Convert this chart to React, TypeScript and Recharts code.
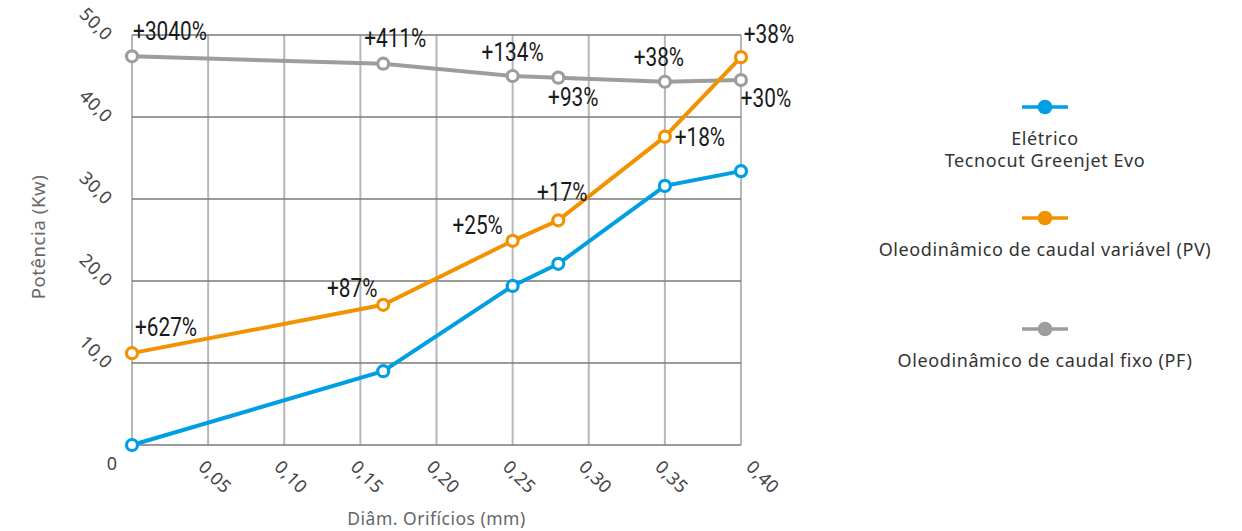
import React from 'react';
import {
  LineChart,
  Line,
  XAxis,
  YAxis,
  CartesianGrid,
  Legend,
  LabelList,
} from 'recharts';

// diâmetro do orifício (mm)
const DIAMETERS = [0, 0.165, 0.25, 0.28, 0.35, 0.4];
// potência (Kw) por tecnologia
const ELETRICO = [0, 9.0, 19.4, 22.1, 31.6, 33.4];
const PV = [11.2, 17.1, 24.9, 27.4, 37.6, 47.3];
const PF = [47.4, 46.5, 45.0, 44.8, 44.3, 44.5];

const PV_LABELS = ['+627%', '+87%', '+25%', '+17%', '+18%', '+38%'];
const PF_LABELS = ['+3040%', '+411%', '+134%', '+93%', '+38%', '+30%'];

const X_TICKS = [0, 0.05, 0.1, 0.15, 0.2, 0.25, 0.3, 0.35, 0.4];
const X_TICK_LABELS = ['', '0,05', '0,10', '0,15', '0,20', '0,25', '0,30', '0,35', '0,40'];
const Y_TICKS = [0, 10, 20, 30, 40, 50];
const Y_TICK_LABELS = ['0', '10,0', '20,0', '30,0', '40,0', '50,0'];

// label placement [dx, dy] relative to each point
const PV_LABEL_POS = [[34, -26], [-31, -17], [-35, -16], [4, -28], [35, 0], [28, -23]];
const PF_LABEL_POS = [[38, -25], [12, -26], [0, -24], [15, 20], [-6, -25], [25, 18]];

const COLORS = {
  eletrico: '#009fe3',
  pv: '#f39200',
  pf: '#9d9d9c',
};

const LEGEND_ITEMS = [
  { key: 'eletrico', lines: ['Elétrico', 'Tecnocut Greenjet Evo'] },
  { key: 'pv', lines: ['Oleodinâmico de caudal variável (PV)'] },
  { key: 'pf', lines: ['Oleodinâmico de caudal fixo (PF)'] },
];

const data = DIAMETERS.map((d, i) => ({
  d,
  eletrico: ELETRICO[i],
  pv: PV[i],
  pf: PF[i],
  pvLabel: PV_LABELS[i],
  pfLabel: PF_LABELS[i],
}));

const TICK_FONT = '"Noto Sans", sans-serif';
const NOTE_FONT = 'Roboto, "Liberation Sans Narrow", sans-serif';

const XTick = (props: any) => {
  const { x, y, payload, index } = props;
  const i = X_TICKS.indexOf(payload.value);
  const label = X_TICK_LABELS[i] ?? '';
  if (!label) return null;
  const last = i === X_TICKS.length - 1;
  const ax = x + (last ? 4 : -11);
  const ay = y + 23;
  return (
    <text
      key={index}
      x={ax}
      y={ay}
      transform={`rotate(45 ${ax} ${ay})`}
      textAnchor="start"
      fill="#444"
      fontSize={18}
      letterSpacing={0.5}
      fontFamily={TICK_FONT}
    >
      {label}
    </text>
  );
};

const YTick = (props: any) => {
  const { x, y, payload } = props;
  const label = Y_TICK_LABELS[Y_TICKS.indexOf(payload.value)] ?? '';
  if (payload.value === 0) {
    return (
      <text x={x - 20} y={y + 25} textAnchor="middle" fill="#444" fontSize={18} fontFamily={TICK_FONT}>
        {label}
      </text>
    );
  }
  const ax = x - 27;
  const ay = y + 7;
  return (
    <text
      x={ax}
      y={ay}
      transform={`rotate(45 ${ax} ${ay})`}
      textAnchor="end"
      fill="#444"
      fontSize={18}
      letterSpacing={0.5}
      fontFamily={TICK_FONT}
    >
      {label}
    </text>
  );
};

const makeNote = (pos: number[][]) => (props: any) => {
  const { x, y, value, index } = props;
  const [dx, dy] = pos[index] || [0, -20];
  return (
    <text
      transform={`translate(${x + dx} ${y + dy}) scale(0.8 1)`}
      x={0}
      y={0}
      textAnchor="middle"
      dominantBaseline="central"
      fill="#1a1a1a"
      fontSize={26}
      fontFamily={NOTE_FONT}
    >
      {value}
    </text>
  );
};

const LegendContent = () => (
  <div style={{ fontFamily: TICK_FONT, fontSize: 18, letterSpacing: 0.6, color: '#333', textAlign: 'center' }}>
    {LEGEND_ITEMS.map((item) => (
      <div key={item.key} style={{ height: 111, lineHeight: '22px' }}>
        <svg width={48} height={16} style={{ display: 'block', margin: '0 auto 12px' }}>
          <line x1={1} y1={8} x2={47} y2={8} stroke={COLORS[item.key as keyof typeof COLORS]} strokeWidth={3.5} />
          <circle cx={24} cy={8} r={7.3} fill={COLORS[item.key as keyof typeof COLORS]} />
        </svg>
        {item.lines.map((l) => (
          <div key={l}>{l}</div>
        ))}
      </div>
    ))}
  </div>
);

const dotStyle = (color: string) => ({ r: 5.5, fill: '#fff', stroke: color, strokeWidth: 3.2 });

export default function App() {
  return (
    <div style={{ position: 'absolute', left: 0, top: 0, width: 1242, height: 531, background: '#fff' }}>
      <LineChart width={1242} height={531} data={data} margin={{ top: 35, right: 501, bottom: 26, left: 72 }}>
        <CartesianGrid horizontal={false} vertical stroke="#b7b7b7" strokeWidth={2} />
        <CartesianGrid horizontal vertical={false} stroke="#7a7a7a" strokeWidth={1.3} />
        <XAxis
          dataKey="d"
          type="number"
          domain={[0, 0.4]}
          ticks={X_TICKS}
          interval={0}
          axisLine={false}
          tickLine={false}
          tickSize={0}
          tickMargin={0}
          height={60}
          tick={<XTick />}
          label={{
            value: 'Diâm. Orifícios (mm)',
            position: 'insideBottom',
            offset: -20,
            fill: '#666',
            fontSize: 17.5,
            letterSpacing: 0.5,
            fontFamily: TICK_FONT,
          }}
        />
        <YAxis
          type="number"
          domain={[0, 50]}
          ticks={Y_TICKS}
          interval={0}
          axisLine={false}
          tickLine={false}
          tickSize={0}
          tickMargin={0}
          width={60}
          tick={<YTick />}
          label={{
            content: (p: any) => {
              const vb = p.viewBox || { x: 72, y: 35, width: 60, height: 410 };
              const cx = vb.x - 35;
              const cy = vb.y + vb.height / 2 - 3;
              return (
                <text
                  x={cx}
                  y={cy}
                  transform={`rotate(-90 ${cx} ${cy})`}
                  textAnchor="middle"
                  dominantBaseline="central"
                  fill="#666"
                  fontSize={18.5}
                  letterSpacing={0.6}
                  fontFamily={TICK_FONT}
                >
                  Potência (Kw)
                </text>
              );
            },
          }}
        />
        <Legend
          layout="vertical"
          align="center"
          verticalAlign="middle"
          wrapperStyle={{ left: 870, top: 99, width: 350 }}
          content={<LegendContent />}
        />
        <Line
          dataKey="pf"
          stroke={COLORS.pf}
          strokeWidth={4}
          dot={dotStyle(COLORS.pf)}
          activeDot={false}
          isAnimationActive={false}
        >
          <LabelList dataKey="pfLabel" content={makeNote(PF_LABEL_POS)} />
        </Line>
        <Line
          dataKey="eletrico"
          stroke={COLORS.eletrico}
          strokeWidth={4}
          dot={dotStyle(COLORS.eletrico)}
          activeDot={false}
          isAnimationActive={false}
        />
        <Line
          dataKey="pv"
          stroke={COLORS.pv}
          strokeWidth={4}
          dot={dotStyle(COLORS.pv)}
          activeDot={false}
          isAnimationActive={false}
        >
          <LabelList dataKey="pvLabel" content={makeNote(PV_LABEL_POS)} />
        </Line>
      </LineChart>
    </div>
  );
}
